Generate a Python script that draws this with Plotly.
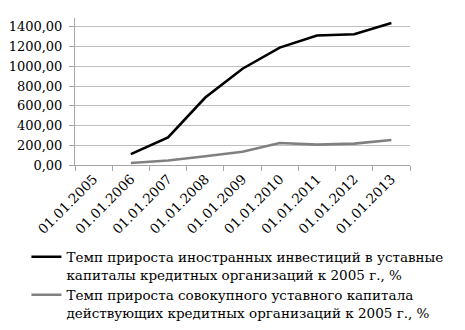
import plotly.graph_objects as go

categories = ["01.01.2005", "01.01.2006", "01.01.2007", "01.01.2008", "01.01.2009",
              "01.01.2010", "01.01.2011", "01.01.2012", "01.01.2013"]
foreign = [None, 110, 280, 684, 976, 1190, 1312, 1325, 1440]
total = [None, 20, 45, 88, 135, 223, 207, 217, 254]
name_foreign = "Темп прироста иностранных инвестиций в уставные<br>капиталы кредитных организаций к 2005 г., %"
name_total = "Темп прироста совокупного уставного капитала<br>действующих кредитных организаций к 2005 г., %"
y_ticks = [0, 200, 400, 600, 800, 1000, 1200, 1400]
y_ticktext = ["0,00", "200,00", "400,00", "600,00", "800,00", "1000,00", "1200,00", "1400,00"]

FONT = "DejaVu Serif"

fig = go.Figure()
fig.add_trace(go.Scatter(x=categories, y=foreign, mode="lines", name=name_foreign,
                         line=dict(color="#000000", width=2.6)))
fig.add_trace(go.Scatter(x=categories, y=total, mode="lines", name=name_total,
                         line=dict(color="#808080", width=2.6)))

fig.update_layout(
    width=465, height=330,
    margin=dict(l=67, r=63, t=10, b=160),
    paper_bgcolor="white", plot_bgcolor="white",
    font=dict(family=FONT, size=13.5, color="#000000"),
    showlegend=True,
    legend=dict(x=-0.145, y=-0.52, xanchor="left", yanchor="top",
                bgcolor="rgba(0,0,0,0)", itemwidth=30, valign="top",
                font=dict(family=FONT, size=13.5, color="#000000"),
                tracegroupgap=0),
)
fig.update_xaxes(
    type="category", automargin=False,
    showgrid=False, showline=True, linecolor="#a6a6a6", linewidth=1,
    ticks="outside", tickson="boundaries", ticklen=5, tickcolor="#a6a6a6",
    tickangle=-45, tickfont=dict(family=FONT, size=13.5, color="#000000"),
    range=[-0.5, 8.5],
)
fig.update_yaxes(
    range=[0, 1490], automargin=False,
    tickvals=y_ticks, ticktext=y_ticktext,
    showgrid=True, gridcolor="#bfbfbf", gridwidth=1,
    showline=True, linecolor="#a6a6a6", linewidth=1,
    ticks="outside", ticklen=5, tickcolor="#a6a6a6",
    ticklabelstandoff=4,
    zeroline=False,
    tickfont=dict(family=FONT, size=13, color="#000000"),
)

fig.write_html("out.html")
